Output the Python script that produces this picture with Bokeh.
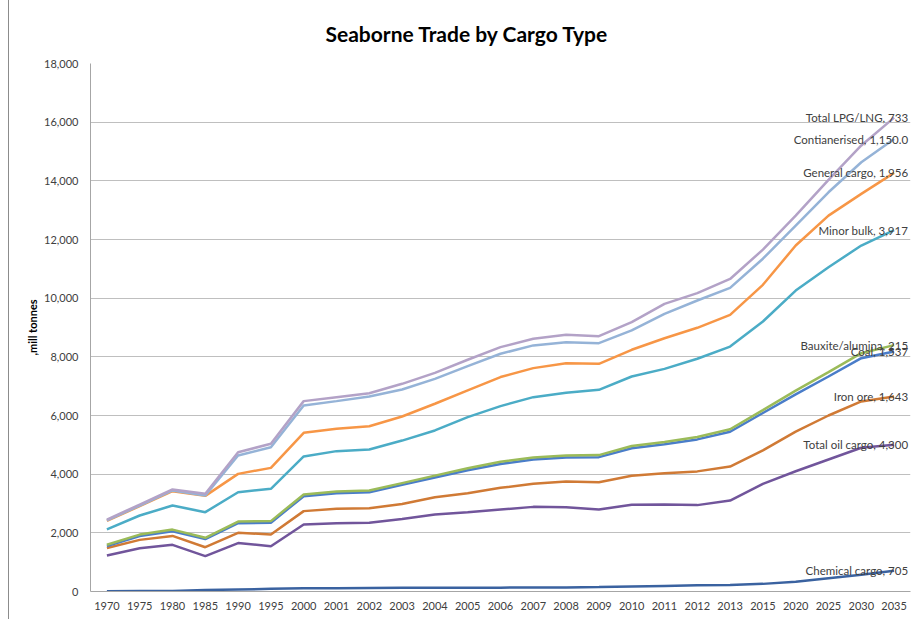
import numpy as np
from bokeh.plotting import figure
from bokeh.models import FactorRange, Range1d, NumeralTickFormatter, FixedTicker, ColumnDataSource
from bokeh.core.properties import value
from bokeh.embed import file_html
from bokeh.resources import INLINE

years = ["1970", "1975", "1980", "1985", "1990", "1995", "2000", "2001", "2002", "2003",
         "2004", "2005", "2006", "2007", "2008", "2009", "2010", "2011", "2012", "2013",
         "2015", "2020", "2025", "2030", "2035"]

# individual series (million tonnes), stacked in this order
chemical = [10, 15, 20, 50, 70, 90, 110, 110, 120, 125, 125, 130, 130, 140, 140, 150, 170, 190, 210, 220, 260, 330, 450, 570, 705]
oil = [1220, 1460, 1570, 1155, 1580, 1455, 2175, 2220, 2220, 2350, 2500, 2575, 2665, 2745, 2735, 2645, 2785, 2775, 2735, 2880, 3410, 3770, 4050, 4330, 4300]
iron_ore = [250, 285, 305, 305, 350, 400, 455, 490, 500, 510, 590, 645, 740, 785, 875, 930, 990, 1070, 1150, 1160, 1140, 1350, 1500, 1580, 1643]
coal = [70, 130, 160, 275, 330, 400, 510, 530, 540, 650, 670, 785, 815, 830, 820, 855, 940, 985, 1090, 1185, 1275, 1270, 1330, 1475, 1537]
bauxite = [45, 50, 55, 45, 55, 55, 60, 60, 60, 60, 65, 65, 70, 70, 70, 70, 75, 80, 80, 85, 100, 130, 150, 170, 215]
minor_bulk = [525, 650, 820, 875, 1000, 1100, 1295, 1375, 1400, 1450, 1540, 1745, 1900, 2055, 2135, 2225, 2370, 2490, 2670, 2820, 3020, 3410, 3575, 3670, 3917]
general = [285, 320, 490, 555, 625, 715, 805, 760, 795, 820, 910, 910, 990, 990, 1010, 885, 910, 1045, 1055, 1080, 1250, 1535, 1760, 1760, 1956]
container = [20, 20, 25, 15, 625, 705, 930, 945, 1010, 920, 850, 830, 795, 775, 715, 705, 660, 830, 930, 920, 890, 680, 795, 1080, 1150]
lpg = [25, 35, 35, 55, 115, 115, 150, 135, 115, 195, 205, 215, 225, 225, 250, 240, 285, 340, 250, 305, 310, 340, 420, 570, 733]

names = ["Chemical cargo", "Total oil cargo", "Iron ore", "Coal", "Bauxite/alumina",
         "Minor bulk", "General cargo", "Contianerised", "Total LPG/LNG"]
end_labels = ["Chemical cargo, 705", "Total oil cargo, 4,300", "Iron ore, 1,643", "Coal, 1,537",
              "Bauxite/alumina, 215", "Minor bulk, 3,917", "General cargo, 1,956",
              "Contianerised, 1,150.0", "Total LPG/LNG, 733"]
series = [chemical, oil, iron_ore, coal, bauxite, minor_bulk, general, container, lpg]
colors = ["#3A62A0", "#71559B", "#D07A35", "#4A7DC9", "#9BBB59", "#4BACC6", "#F79646", "#95B3D7", "#B3A2C7"]

stacked = np.cumsum(np.array(series, dtype=float), axis=0)

p = figure(width=916, height=619, x_range=FactorRange(factors=years, range_padding=0),
           y_range=Range1d(0, 18000), output_backend="svg", toolbar_location=None,
           min_border_left=90, min_border_right=6, min_border_top=63, min_border_bottom=28,
           styles={"background": "linear-gradient(to right, #ffffff 8px, #8C8C8C 8px, #8C8C8C 9px, #ffffff 9px)"})
p.border_fill_color = None
p.background_fill_color = "#ffffff"

p.title.text = "Seaborne Trade by Cargo Type"
p.title.align = "left"
p.title.offset = 235
p.title.text_font = "Lato"
p.title.text_font_size = "21px"
p.title.text_font_style = "bold"
p.title.text_color = "#000000"
p.title.standoff = 35

p.outline_line_color = None
p.xgrid.grid_line_color = None
p.ygrid.grid_line_color = "#BFBFBF"
p.ygrid.ticker = FixedTicker(ticks=list(range(0, 18001, 2000)))

p.yaxis.ticker = FixedTicker(ticks=list(range(0, 18001, 2000)))
p.yaxis.formatter = NumeralTickFormatter(format="0,0")
p.yaxis.axis_label = ",mill tonnes"
p.yaxis.axis_label_text_font = "Lato"
p.yaxis.axis_label_text_font_style = "bold"
p.yaxis.axis_label_text_font_size = "11px"
p.yaxis.axis_label_text_color = "#000000"
p.yaxis.axis_label_standoff = 2

for ax in (p.xaxis, p.yaxis):
    ax.axis_line_color = "#A6A6A6"
    ax.major_tick_line_color = None
    ax.minor_tick_line_color = None
    ax.major_tick_out = 0
    ax.major_tick_in = 0
    ax.major_label_text_font = "Lato"
    ax.major_label_text_font_size = "11px"
    ax.major_label_text_color = "#404040"
p.yaxis.major_label_standoff = 12
p.xaxis.major_label_standoff = 10

for i in range(len(series)):
    p.line(x=years, y=stacked[i], line_color=colors[i], line_width=2.5)

src = ColumnDataSource(dict(x=[years[-1]] * len(series), y=stacked[:, -1], text=end_labels))
p.text(x="x", y="y", text="text", x_offset=14, source=src, text_align="right",
       text_baseline="middle", text_font=value("Lato"), text_font_size="11.5px", text_color="#404040")

open("out.html", "w").write(file_html(p, INLINE))
